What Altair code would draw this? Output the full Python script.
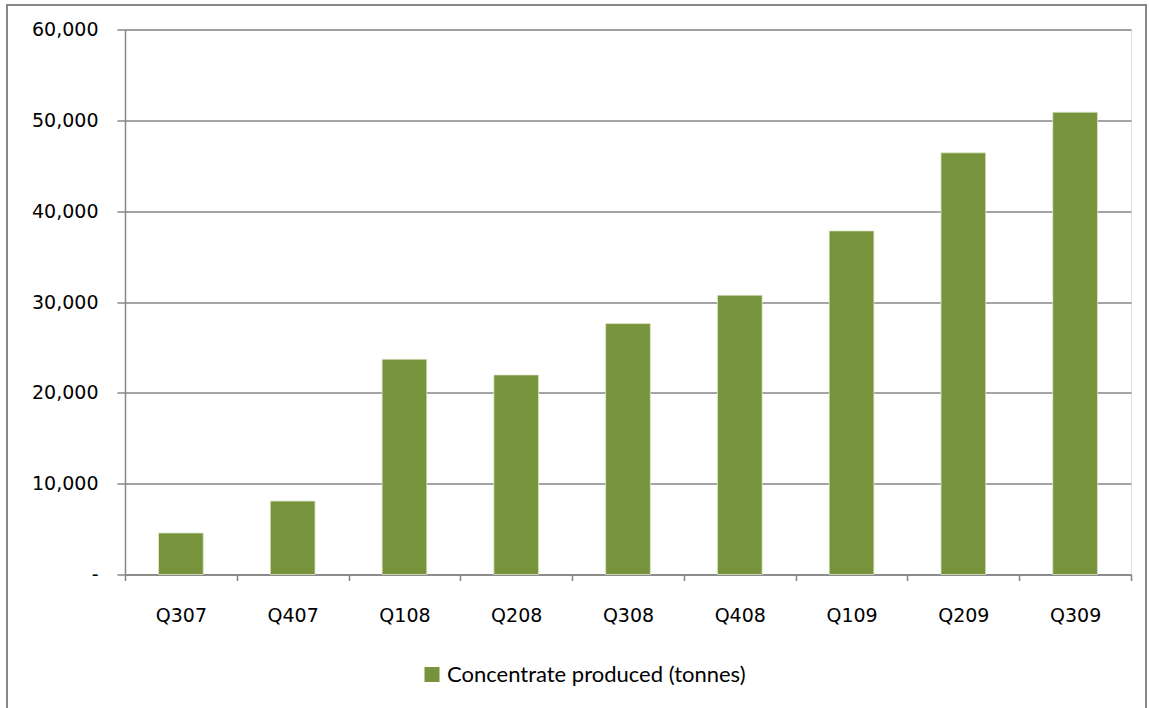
import altair as alt
import pandas as pd

quarters = ["Q307", "Q407", "Q108", "Q208", "Q308", "Q408", "Q109", "Q209", "Q309"]
concentrate = [4570, 8090, 23700, 21970, 27620, 30750, 37830, 46420, 50900]
series_name = "Concentrate produced (tonnes)"
y_ticks = [0, 10000, 20000, 30000, 40000, 50000, 60000]

df = pd.DataFrame({"quarter": quarters, "value": concentrate, "series": series_name})

GRAY = "#868686"
GREEN = "#77933C"

bars = alt.Chart(df).mark_bar(
    color=GREEN, stroke="#dfe8cc", strokeWidth=0.8, width=alt.RelativeBandSize(0.4)
).encode(
    x=alt.X(
        "quarter:N",
        sort=quarters,
        title=None,
        scale=alt.Scale(paddingInner=0, paddingOuter=0),
        axis=alt.Axis(
            labelAngle=0,
            labelFont="DejaVu Sans",
            labelFontSize=19,
            labelColor="#000000",
            labelPadding=26,
            tickBand="extent",
            tickSize=6,
            tickColor=GRAY,
            tickWidth=1.5,
            domainColor=GRAY,
            domainWidth=1.5,
            grid=False,
        ),
    ),
    y=alt.Y(
        "value:Q",
        title=None,
        scale=alt.Scale(domain=[0, 60000], nice=False),
        axis=alt.Axis(
            values=y_ticks,
            labelExpr="datum.value == 0 ? '-' : format(datum.value, ',')",
            labelFont="DejaVu Sans",
            labelFontSize=19,
            labelColor="#000000",
            labelPadding=19,
            tickSize=8,
            tickColor=GRAY,
            tickWidth=1.5,
            domainColor=GRAY,
            domainWidth=1.5,
            grid=True,
            gridColor=GRAY,
            gridWidth=1.5,
        ),
    ),
    fill=alt.Fill(
        "series:N",
        scale=alt.Scale(domain=[series_name], range=[GREEN]),
        legend=alt.Legend(
            title=None,
            orient="none",
            legendX=296,
            legendY=634,
            symbolType="square",
            symbolSize=225,
            symbolStrokeWidth=0,
            labelFont="Lato",
            labelFontSize=22,
            labelColor="#000000",
            labelOffset=4,
            labelLimit=0,
        ),
    ),
)

border = alt.Chart(df).mark_rect(
    fill=None, stroke=GRAY, strokeWidth=1.5
).encode(
    x=alt.value(-118), x2=alt.value(1021), y=alt.value(-24.5), y2=alt.value(720)
)

chart = alt.layer(border, bars).properties(
    width=1006,
    height=545,
    padding={"left": 125, "top": 29.5, "right": 18, "bottom": 134},
    autosize=alt.AutoSizeParams(type="none"),
).configure_view(stroke=None).configure(background="#ffffff")

chart.save("out.html", embed_options={"renderer": "svg", "actions": False})
